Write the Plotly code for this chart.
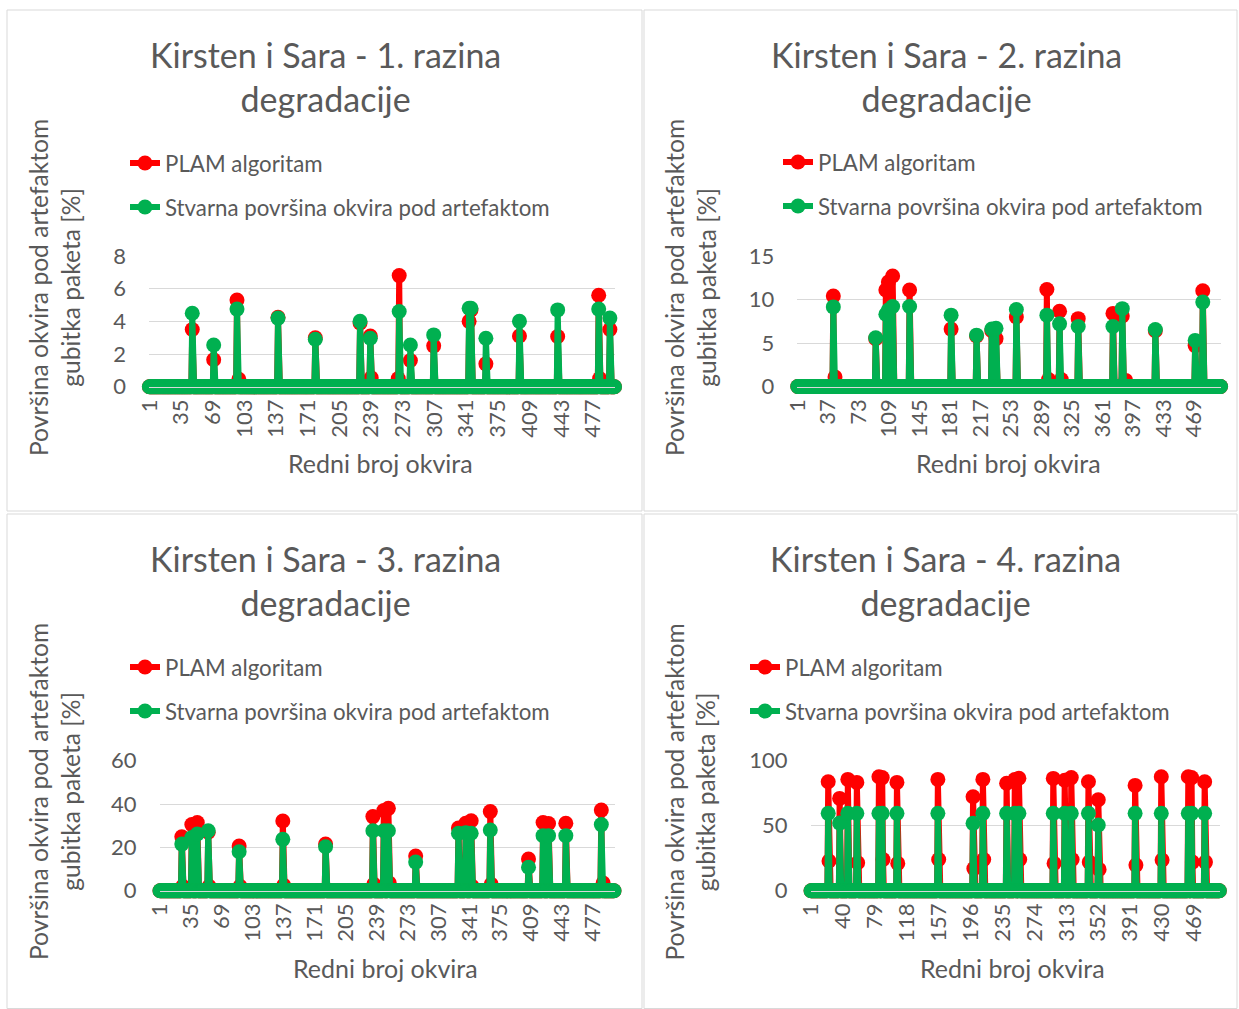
import plotly.graph_objects as go

N_FRAMES = 500
FRAMES = list(range(1, N_FRAMES + 1))

TITLES = ["Kirsten i Sara - 1. razina<br>degradacije",
          "Kirsten i Sara - 2. razina<br>degradacije",
          "Kirsten i Sara - 3. razina<br>degradacije",
          "Kirsten i Sara - 4. razina<br>degradacije"]
SERIES_NAMES = ["PLAM algoritam", "Stvarna površina okvira pod artefaktom"]
Y_TITLE = "Površina okvira pod artefaktom<br>gubitka paketa [%]"
X_TITLE = "Redni broj okvira"

# ---- Panel 1 (level 1) ----
P1_FRAMES = [47, 70, 95, 139, 179, 227, 238, 269, 281, 306, 344, 346, 362, 398, 439, 483, 495]
P1_PLAM = [3.5, 1.65, 5.3, 4.25, 3.0, 3.9, 3.1, 6.8, 1.6, 2.5, 4.0, 4.7, 1.4, 3.1, 3.07, 5.6, 3.5]
P1_TRUE = [4.5, 2.55, 4.75, 4.2, 2.9, 4.0, 2.97, 4.6, 2.55, 3.17, 4.8, 4.8, 2.97, 4.0, 4.7, 4.75, 4.2]
P1_PLAM_EXTRA_FRAMES = [97, 239, 268, 484]
P1_PLAM_EXTRA = [0.45, 0.55, 0.5, 0.5]
P1_YMAX, P1_DTICK = 8, 2
P1_TICKS = list(range(1, 501, 34))

# ---- Panel 2 (level 2) ----
P2_FRAMES = [43, 93, 105, 108, 113, 133, 182, 212, 230, 235, 259, 295, 310, 332, 373, 384, 423, 470, 479]
P2_PLAM = [10.4, 5.5, 11.1, 12.0, 12.7, 11.1, 6.6, 5.8, 6.4, 5.5, 8.0, 11.15, 8.65, 7.8, 8.4, 8.1, 6.4, 4.7, 11.0]
P2_TRUE = [9.15, 5.6, 8.3, 8.8, 9.2, 9.2, 8.2, 5.9, 6.6, 6.7, 8.85, 8.2, 7.2, 6.9, 6.9, 8.95, 6.55, 5.3, 9.7]
P2_PLAM_EXTRA_FRAMES = [45, 297, 312, 388]
P2_PLAM_EXTRA = [1.1, 0.8, 0.8, 0.7]
P2_YMAX, P2_DTICK = 15, 5
P2_TICKS = list(range(1, 501, 36))

# ---- Panel 3 (level 3) ----
P3_FRAMES = [25, 36, 42, 54, 88, 136, 183, 235, 247, 252, 282, 329, 337, 343, 364, 406, 422, 428, 447, 486]
P3_PLAM = [24.9, 30.5, 31.5, 27.0, 20.6, 32.2, 21.5, 34.2, 37.0, 38.0, 16.0, 28.9, 31.1, 32.3, 36.5, 14.6, 31.5, 31.0, 31.1, 37.2]
P3_TRUE = [21.5, 24.5, 26.2, 27.7, 18.0, 23.7, 20.3, 27.7, 27.7, 27.7, 13.2, 26.5, 26.8, 26.5, 28.0, 10.8, 25.4, 25.4, 25.4, 30.5]
P3_PLAM_EXTRA_FRAMES = [26, 55, 89, 137, 236, 253, 344, 365, 488]
P3_PLAM_EXTRA = [2.0, 2.0, 2.0, 2.5, 3.0, 3.5, 2.0, 3.0, 3.5]
P3_YMAX, P3_DTICK = 60, 20
P3_TICKS = list(range(1, 501, 34))

# ---- Panel 4 (level 4) ----
P4_FRAMES = [22, 36, 46, 57, 84, 88, 106, 156, 199, 211, 240, 250, 255, 297, 311, 319, 340, 352, 397, 429, 462, 466, 482]
P4_PLAM = [83.8, 71.0, 85.6, 83.3, 87.7, 87.0, 83.3, 85.6, 72.3, 85.6, 82.6, 85.5, 86.5, 86.4, 85.0, 87.0, 83.8, 70.0, 81.0, 87.7, 87.7, 87.0, 83.8]
P4_TRUE = [59.5, 52.0, 59.5, 59.5, 59.5, 59.5, 59.5, 59.5, 51.8, 59.5, 59.5, 59.5, 59.5, 59.5, 59.5, 59.5, 59.5, 50.5, 59.5, 59.5, 59.5, 59.5, 59.5]
P4_PLAM_EXTRA_FRAMES = [23, 58, 89, 107, 157, 200, 212, 256, 298, 320, 341, 353, 398, 430, 467, 483]
P4_PLAM_EXTRA = [22.8, 21.5, 24.0, 21.0, 24.0, 17.0, 24.0, 24.0, 21.0, 24.0, 22.0, 16.4, 19.7, 23.6, 22.0, 22.0]
P4_YMAX, P4_DTICK = 100, 50
P4_TICKS = list(range(1, 501, 39))


def build(spike_frames, spike_vals, extra_frames=(), extra_vals=()):
    y = [0.0] * N_FRAMES
    for f, v in zip(extra_frames, extra_vals):
        y[f - 1] = v
    for f, v in zip(spike_frames, spike_vals):
        y[f - 1] = v
    return y


PANELS = [
    dict(plam=build(P1_FRAMES, P1_PLAM, P1_PLAM_EXTRA_FRAMES, P1_PLAM_EXTRA),
         true=build(P1_FRAMES, P1_TRUE), ymax=P1_YMAX, dtick=P1_DTICK, ticks=P1_TICKS,
         xpx=(148.9, 615.0), ypx=(386.7, 256.0),
         title=(325, 76), ytitle=(54, 288), xtitle=(380, 463), legend=(125, 142)),
    dict(plam=build(P2_FRAMES, P2_PLAM, P2_PLAM_EXTRA_FRAMES, P2_PLAM_EXTRA),
         true=build(P2_FRAMES, P2_TRUE), ymax=P2_YMAX, dtick=P2_DTICK, ticks=P2_TICKS,
         xpx=(797.3, 1221.0), ypx=(386.5, 256.0),
         title=(946, 76), ytitle=(690, 288), xtitle=(1008, 463), legend=(778, 141)),
    dict(plam=build(P3_FRAMES, P3_PLAM, P3_PLAM_EXTRA_FRAMES, P3_PLAM_EXTRA),
         true=build(P3_FRAMES, P3_TRUE), ymax=P3_YMAX, dtick=P3_DTICK, ticks=P3_TICKS,
         xpx=(159.5, 614.5), ypx=(890.7, 760.7),
         title=(325, 580), ytitle=(54, 792), xtitle=(386, 968), legend=(125, 646)),
    dict(plam=build(P4_FRAMES, P4_PLAM, P4_PLAM_EXTRA_FRAMES, P4_PLAM_EXTRA),
         true=build(P4_FRAMES, P4_TRUE), ymax=P4_YMAX, dtick=P4_DTICK, ticks=P4_TICKS,
         xpx=(810.6, 1219.8), ypx=(890.7, 760.7),
         title=(945, 580), ytitle=(689.5, 792), xtitle=(1012, 968), legend=(745, 646)),
]

W, H = 1239, 1009
FONT = "Lato"
GREY = "#595959"
GRID = "#d9d9d9"
RED = "#FF0000"
GREEN = "#00B050"


def px(x):
    return x / W


def py(y):
    return 1 - y / H


fig = go.Figure()
layout = dict(width=W, height=H, autosize=False,
              margin=dict(l=0, r=0, t=0, b=0, pad=0, autoexpand=False),
              paper_bgcolor="white", plot_bgcolor="white",
              font=dict(family=FONT, color=GREY), showlegend=True,
              annotations=[], shapes=[])

for i, p in enumerate(PANELS):
    n = i + 1
    xa = "x" if n == 1 else f"x{n}"
    ya = "y" if n == 1 else f"y{n}"
    lg = "legend" if n == 1 else f"legend{n}"
    for name, vals, color, grp in [(SERIES_NAMES[0], p["plam"], RED, "a"),
                                    (SERIES_NAMES[1], p["true"], GREEN, "b")]:
        fig.add_trace(go.Scatter(
            x=FRAMES, y=vals, name=name, mode="lines+markers",
            line=dict(color=color, width=6),
            marker=dict(color=color, size=15, line=dict(width=0)),
            xaxis=xa, yaxis=ya, legend=lg, legendgroup=f"{n}{grp}",
            cliponaxis=False, hoverinfo="x+y"))
    xkey = "xaxis" if n == 1 else f"xaxis{n}"
    ykey = "yaxis" if n == 1 else f"yaxis{n}"
    layout[xkey] = dict(domain=[px(p["xpx"][0]), px(p["xpx"][1])], anchor=ya,
                        range=[0.5, N_FRAMES + 0.5], tickmode="array",
                        tickvals=p["ticks"], ticktext=[str(t) for t in p["ticks"]],
                        tickangle=-90, showgrid=False, zeroline=False,
                        showline=True, linecolor=GRID, linewidth=1,
                        tickfont=dict(family=FONT, size=22, color=GREY),
                        ticks="", ticklabelstandoff=3, fixedrange=True,
                        automargin=False)
    layout[ykey] = dict(domain=[py(p["ypx"][0]), py(p["ypx"][1])], anchor=xa,
                        range=[0, p["ymax"]], dtick=p["dtick"], tick0=0,
                        showgrid=True, gridcolor=GRID, gridwidth=1.3,
                        zeroline=False, showline=False,
                        tickfont=dict(family=FONT, size=22, color=GREY),
                        ticks="", ticklabelstandoff=22, fixedrange=True,
                        automargin=False)
    layout[lg] = dict(x=px(p["legend"][0]), y=py(p["legend"][1]),
                      xanchor="left", yanchor="top", bgcolor="rgba(0,0,0,0)",
                      font=dict(family=FONT, size=22.3, color=GREY),
                      tracegroupgap=12, orientation="v")
    layout["annotations"] += [
        dict(text=TITLES[i], x=px(p["title"][0]), y=py(p["title"][1]),
             xref="paper", yref="paper", xanchor="center", yanchor="middle",
             showarrow=False, font=dict(family=FONT, size=34, color=GREY)),
        dict(text=Y_TITLE, x=px(p["ytitle"][0]), y=py(p["ytitle"][1]),
             xref="paper", yref="paper", xanchor="center", yanchor="middle",
             textangle=-90, showarrow=False,
             font=dict(family=FONT, size=24.6, color=GREY)),
        dict(text=X_TITLE, x=px(p["xtitle"][0]), y=py(p["xtitle"][1]),
             xref="paper", yref="paper", xanchor="center", yanchor="middle",
             showarrow=False, font=dict(family=FONT, size=25, color=GREY)),
    ]

PANEL_BOXES = [(7, 10, 642, 511), (644, 10, 1237, 511), (7, 514, 642, 1008.5), (644, 514, 1237, 1008.5)]
for (x0, y0, x1, y1) in PANEL_BOXES:
    layout["shapes"].append(dict(type="rect", xref="paper", yref="paper",
                                 x0=px(x0), x1=px(x1), y0=py(y0), y1=py(y1),
                                 line=dict(color=GRID, width=1), layer="below"))

fig.update_layout(**layout)

fig.write_html("out.html", config={"displayModeBar": False, "responsive": False},
               post_script="document.body.style.margin='0';document.body.style.padding='0';")
